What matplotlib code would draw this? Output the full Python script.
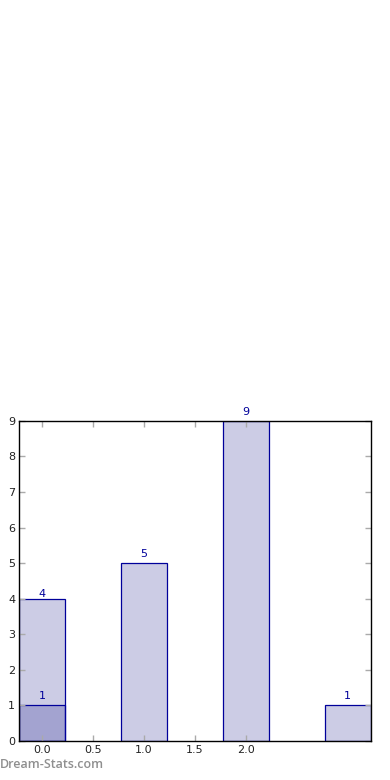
import numpy as np
import matplotlib.pyplot as plt

# Bar positions and counts
positions = [0.0, 1.0, 2.0, 3.0]
counts = [4, 5, 9, 1]
overlay_positions = [0.0]
overlay_counts = [1]
xtick_values = [0.0, 0.5, 1.0, 1.5, 2.0]
ytick_values = list(range(0, 10))

plt.rcParams["font.family"] = "DejaVu Sans"
plt.rcParams["font.size"] = 8

fig = plt.figure(figsize=(3.9, 7.8), dpi=100)
ax = fig.add_axes([0.0495, 0.0504, 0.901, 0.4099])

w = 0.45
edge = '#00009a'
ax.bar(positions, counts, width=w, color='navy', alpha=0.2, linewidth=0)
ax.bar(positions, counts, width=w, facecolor='none', edgecolor=edge, linewidth=0.9)
ax.bar(overlay_positions, overlay_counts, width=w, color='navy', alpha=0.2, linewidth=0)
ax.bar(overlay_positions, overlay_counts, width=w, facecolor='none', edgecolor=edge, linewidth=0.9)

for x, c in zip(positions, counts):
    off = 0 if c == 4 else 3
    ax.annotate(str(c), (x, c), xytext=(0, off), textcoords='offset points',
                ha='center', va='bottom', color=edge, fontsize=8)
for x, c in zip(overlay_positions, overlay_counts):
    ax.annotate(str(c), (x, c), xytext=(0, 3), textcoords='offset points',
                ha='center', va='bottom', color=edge, fontsize=8)

ax.set_xlim(-0.225, 3.225)
ax.set_ylim(0, 9)
ax.set_xticks(xtick_values)
ax.set_xticklabels(["%.1f" % v for v in xtick_values])
ax.set_yticks(ytick_values)
ax.tick_params(direction='in', color='#aaaaaa', length=4, width=1,
               top=True, right=True, labelsize=8, labelcolor='#222222', pad=3)
for s in ax.spines.values():
    s.set_linewidth(1.0)

fig.text(0.0, 0.0115, "Dream-Stats.com", color='#8f8f8f', fontsize=9,
         family='Open Sans', fontweight='semibold', ha='left', va='bottom')

fig.savefig("out.png", dpi=100)
